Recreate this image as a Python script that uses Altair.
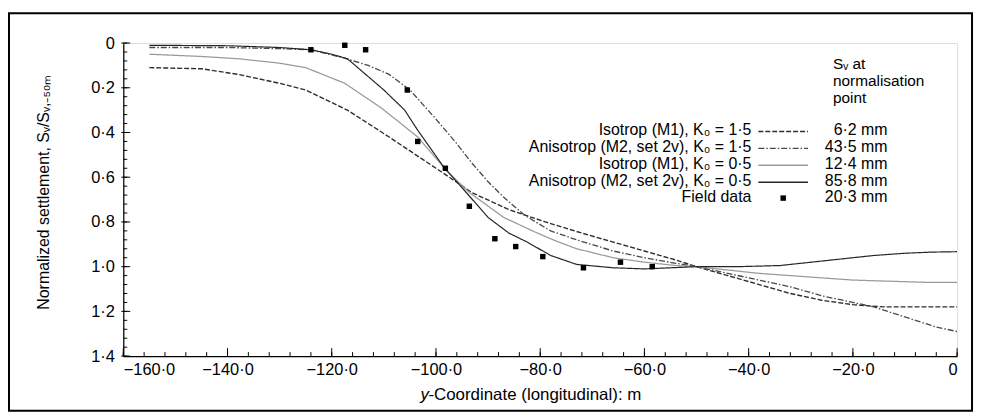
import altair as alt
import pandas as pd

# ---------------- data ----------------
series_names = [
    "Isotrop (M1), K₀ = 1·5",
    "Anisotrop (M2, set 2v), K₀ = 1·5",
    "Isotrop (M1), K₀ = 0·5",
    "Anisotrop (M2, set 2v), K₀ = 0·5",
]
series_values = ["6·2 mm", "43·5 mm", "12·4 mm", "85·8 mm"]
field_label = "Field data"
field_value = "20·3 mm"

iso15_x = [-155, -145, -138, -130, -125, -117, -109, -100, -93, -86, -79, -72, -66, -60, -54, -50,
           -44, -38, -32, -26, -20, -14, -8, 0]
iso15_y = [0.11, 0.115, 0.14, 0.18, 0.21, 0.30, 0.42, 0.56, 0.67, 0.745, 0.80, 0.85, 0.89, 0.93,
           0.97, 1.0, 1.04, 1.08, 1.12, 1.15, 1.17, 1.18, 1.18, 1.18]

aniso15_x = [-155, -140, -130, -124, -118, -113, -109, -105, -100, -96, -93, -90, -87, -83, -78, -73,
             -66, -60, -54, -50, -44, -38, -32, -26, -20, -16, -12, -8, -4, 0]
aniso15_y = [0.02, 0.02, 0.025, 0.03, 0.065, 0.10, 0.14, 0.21, 0.34, 0.45, 0.54, 0.62, 0.69, 0.77,
             0.84, 0.88, 0.93, 0.96, 0.985, 1.0, 1.03, 1.06, 1.09, 1.13, 1.16, 1.18, 1.21, 1.24, 1.27, 1.29]

iso05_x = [-155, -145, -138, -130, -125, -117.5, -110.5, -103.5, -98, -93.5, -87, -81, -77, -73, -66,
           -60, -54, -50, -44, -38, -32, -26, -20, -13, -6, 0]
iso05_y = [0.05, 0.06, 0.07, 0.09, 0.11, 0.18, 0.29, 0.42, 0.57, 0.67, 0.78, 0.845, 0.885, 0.92, 0.96,
           0.98, 0.995, 1.0, 1.015, 1.03, 1.04, 1.05, 1.06, 1.065, 1.07, 1.07]

aniso05_x = [-155, -140, -130, -124, -120, -117, -113, -110, -106, -103.5, -98.5, -94.5, -90, -86,
             -82.5, -78, -73, -66, -60, -50, -42, -34, -28, -22, -16, -10, -5, 0]
aniso05_y = [0.01, 0.012, 0.02, 0.03, 0.05, 0.07, 0.15, 0.21, 0.30, 0.39, 0.555, 0.66, 0.78, 0.85,
             0.89, 0.95, 0.99, 1.005, 1.01, 1.0, 1.0, 0.995, 0.98, 0.965, 0.95, 0.94, 0.935, 0.933]

field_x = [-124, -117.5, -113.5, -105.5, -103.5, -98.2, -93.6, -88.7, -84.7, -79.5, -71.7, -64.6, -58.5]
field_y = [0.03, 0.01, 0.03, 0.21, 0.44, 0.56, 0.73, 0.875, 0.91, 0.955, 1.005, 0.98, 1.0]

x_label_values = [-160, -140, -120, -100, -80, -60, -40, -20, 0]
y_label_values = [0, 0.2, 0.4, 0.6, 0.8, 1.0, 1.2, 1.4]
x_minor_ticks = list(range(-160, 1, 4))
y_minor_ticks = [round(i * 0.04, 2) for i in range(0, 36)]

# ---------------- styles ----------------
W, H = 839, 315
FONT = "Liberation Sans"
FS = 16
colors = ["#2e2e2e", "#4a4a4a", "#9a9a9a", "#262626"]
dashes = [[5, 2], [6, 2, 1.5, 2], [1, 0], [1, 0]]
widths = [1.4, 1.2, 1.4, 1.4]

curves = [(iso15_x, iso15_y), (aniso15_x, aniso15_y), (iso05_x, iso05_y), (aniso05_x, aniso05_y)]
rows = []
for name, (xs, ys) in zip(series_names, curves):
    for xv, yv in zip(xs, ys):
        rows.append({"series": name, "x": xv, "y": yv})
lines_df = pd.DataFrame(rows)
field_df = pd.DataFrame({"x": field_x, "y": field_y})

xscale = alt.Scale(domain=[-160, 0], nice=False, zero=False)
yscale = alt.Scale(domain=[0, 1.4], nice=False, reverse=True)

lab_expr = "datum.value == 0 ? '0' : replace(format(datum.value, '.1f'), '.', '·')"

base_axes = alt.Chart(field_df).mark_point(opacity=0).encode(
    x=alt.X("x:Q", scale=xscale, axis=alt.Axis(
        values=x_label_values, labelExpr=lab_expr, title=None, ticks=False, grid=False,
        domainColor="black", domainWidth=1.2, labelFontSize=16.5, labelColor="black",
        labelPadding=6, labelFont=FONT)),
    y=alt.Y("y:Q", scale=yscale, axis=alt.Axis(
        values=y_label_values, labelExpr=lab_expr, title=None, ticks=False, grid=False,
        domainColor="black", domainWidth=1.2, labelFontSize=16.5, labelColor="black",
        labelPadding=9, labelFont=FONT)),
)

lines = alt.Chart(lines_df).mark_line(clip=True).encode(
    x=alt.X("x:Q", scale=xscale),
    y=alt.Y("y:Q", scale=yscale),
    color=alt.Color("series:N", scale=alt.Scale(domain=series_names, range=colors), legend=None),
    strokeDash=alt.StrokeDash("series:N", scale=alt.Scale(domain=series_names, range=dashes), legend=None),
    strokeWidth=alt.StrokeWidth("series:N", scale=alt.Scale(domain=series_names, range=widths), legend=None),
)

points = alt.Chart(field_df).mark_square(size=30, color="black", opacity=1).encode(
    x=alt.X("x:Q", scale=xscale), y=alt.Y("y:Q", scale=yscale)
)

# inward ticks
xt_major = alt.Chart(pd.DataFrame({"t": x_label_values})).mark_rule(color="black", strokeWidth=1).encode(
    x=alt.X("t:Q", scale=xscale), y=alt.value(H), y2=alt.value(H - 8))
xt_minor = alt.Chart(pd.DataFrame({"t": x_minor_ticks})).mark_rule(color="black", strokeWidth=1).encode(
    x=alt.X("t:Q", scale=xscale), y=alt.value(H), y2=alt.value(H - 4))
yt_major = alt.Chart(pd.DataFrame({"t": y_label_values})).mark_rule(color="black", strokeWidth=1).encode(
    y=alt.Y("t:Q", scale=yscale), x=alt.value(-2), x2=alt.value(7))
yt_minor = alt.Chart(pd.DataFrame({"t": y_minor_ticks})).mark_rule(color="black", strokeWidth=1).encode(
    y=alt.Y("t:Q", scale=yscale), x=alt.value(0), x2=alt.value(4))

one = alt.Data(values=[{"a": 1}])

def txt(s, x, y, align="left", size=FS, style="normal", angle=0):
    return alt.Chart(one).mark_text(
        text=s, align=align, baseline="middle", fontSize=size, font=FONT,
        fontStyle=style, color="black", angle=angle
    ).encode(x=alt.value(x), y=alt.value(y))

deco = []
# frame
deco.append(alt.Chart(one).mark_rect(fill=None, stroke="black", strokeWidth=2).encode(
    x=alt.value(-115), x2=alt.value(854), y=alt.value(-30), y2=alt.value(370)))
# axis titles
deco.append(txt("y", 299, H + 39, style="italic", size=17))
deco.append(txt("-Coordinate (longitudinal): m", 307, H + 39, size=17))
deco.append(txt("Normalized settlement, Sᵥ/Sᵥ,₋₅₀ₘ", -80, 150, align="center", size=16, angle=270))

# legend header
deco.append(txt("Sᵥ at", 714, 21, size=15.5))
deco.append(txt("normalisation", 714, 38, size=15.5))
deco.append(txt("point", 714, 55, size=15.5))

row_y = [88, 105, 122, 139, 155]
for i, name in enumerate(series_names):
    deco.append(txt(name, 632, row_y[i], align="right"))
    deco.append(txt(series_values[i], 769, row_y[i], align="right"))
    deco.append(alt.Chart(one).mark_rule(color=colors[i], strokeDash=dashes[i], strokeWidth=widths[i]).encode(
        x=alt.value(639), x2=alt.value(689), y=alt.value(row_y[i] + 1)))
deco.append(txt(field_label, 632, row_y[4], align="right"))
deco.append(txt(field_value, 769, row_y[4], align="right"))
deco.append(alt.Chart(one).mark_square(size=30, color="black", opacity=1).encode(
    x=alt.value(664), y=alt.value(row_y[4] + 1)))

chart = alt.layer(base_axes, lines, points, xt_major, xt_minor, yt_major, yt_minor, *deco).properties(
    width=W, height=H,
    autosize=alt.AutoSizeParams(type="none"),
    padding={"left": 116, "top": 34, "right": 20, "bottom": 60},
).configure_view(stroke=None).configure(background="white")

chart.save("out.html", embed_options={"renderer": "svg", "actions": False})
